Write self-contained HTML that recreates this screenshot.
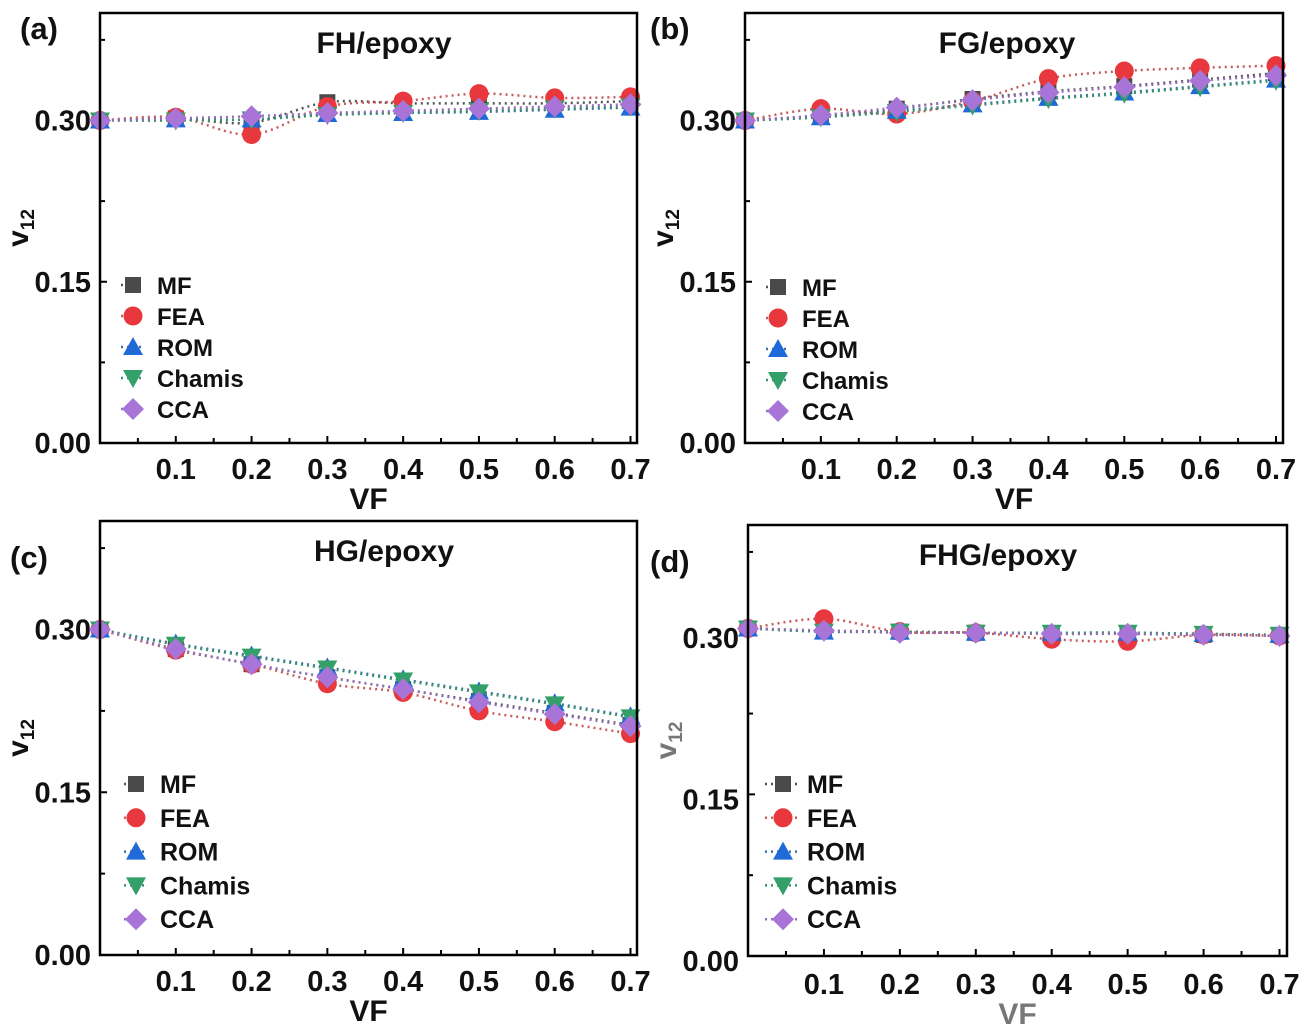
<!DOCTYPE html>
<html><head><meta charset="utf-8"><style>
body{margin:0;background:#fff;}
svg{display:block;font-family:"Liberation Sans",Arial,sans-serif;font-weight:bold;}
</style></head><body>
<svg id="fig" width="1305" height="1034" viewBox="0 0 1305 1034" xmlns="http://www.w3.org/2000/svg"></svg>
<script>
const xValues=[0,0.1,0.2,0.3,0.4,0.5,0.6,0.7];
const seriesNames=["MF","FEA","ROM","Chamis","CCA"];
const xTickLabels=["0.1","0.2","0.3","0.4","0.5","0.6","0.7"];
const yTickLabels=["0.00","0.15","0.30"];
const panelTitles=["FH/epoxy","FG/epoxy","HG/epoxy","FHG/epoxy"];
const panelLetters=["(a)","(b)","(c)","(d)"];
const aMF=[0.300,0.302,0.298,0.317,0.316,0.316,0.316,0.318];
const aFEA=[0.300,0.303,0.287,0.313,0.318,0.325,0.321,0.322];
const aROM=[0.300,0.301,0.301,0.306,0.307,0.308,0.310,0.312];
const aChamis=[0.300,0.300,0.301,0.305,0.307,0.309,0.311,0.313];
const aCCA=[0.300,0.302,0.304,0.307,0.309,0.311,0.313,0.315];
const bMF=[0.300,0.304,0.311,0.320,0.327,0.332,0.338,0.344];
const bFEA=[0.300,0.311,0.306,0.318,0.339,0.346,0.349,0.351];
const bROM=[0.300,0.303,0.309,0.315,0.321,0.326,0.332,0.338];
const bChamis=[0.300,0.303,0.308,0.314,0.320,0.325,0.331,0.337];
const bCCA=[0.300,0.305,0.312,0.319,0.326,0.331,0.337,0.342];
const cMF=[0.300,0.282,0.268,0.256,0.245,0.234,0.223,0.212];
const cFEA=[0.300,0.281,0.268,0.250,0.242,0.225,0.215,0.204];
const cROM=[0.300,0.287,0.276,0.265,0.254,0.243,0.232,0.220];
const cChamis=[0.300,0.286,0.275,0.264,0.253,0.242,0.231,0.219];
const cCCA=[0.300,0.282,0.268,0.256,0.245,0.233,0.222,0.211];
const dMF=[0.304,0.302,0.301,0.300,0.299,0.299,0.298,0.298];
const dFEA=[0.304,0.313,0.301,0.300,0.294,0.292,0.298,0.297];
const dROM=[0.304,0.301,0.301,0.300,0.300,0.300,0.299,0.298];
const dChamis=[0.304,0.301,0.301,0.300,0.300,0.300,0.299,0.298];
const dCCA=[0.304,0.302,0.300,0.300,0.299,0.299,0.298,0.297];
const panelData=[[aMF,aFEA,aROM,aChamis,aCCA],[bMF,bFEA,bROM,bChamis,bCCA],[cMF,cFEA,cROM,cChamis,cCCA],[dMF,dFEA,dROM,dChamis,dCCA]];

const NS="http://www.w3.org/2000/svg";
const svg=document.getElementById('fig');
const colors=["#4a4a4a","#e8383d","#1f6ad6","#33a06a","#a874d8"];
const lineColors=["#555","#c85a5a","#3a6fa8","#3a9070","#9070b8"];
const panels=[
 {L:100,R:637,T:13,B:443,x0:100,x1:630.5,legY:285,legDy:31,mx:133,tx:157,leftLine:false,gray:false,fs:24,yOff:0,xOff:0},
 {L:745,R:1283,T:13,B:443,x0:745,x1:1276,legY:287,legDy:31,mx:778,tx:802,leftLine:false,gray:false,fs:24,yOff:0,xOff:0},
 {L:100,R:637,T:521,B:955,x0:100,x1:630.5,legY:784,legDy:33.8,mx:136,tx:160,leftLine:false,gray:false,fs:25,yOff:0,xOff:0},
 {L:748,R:1287,T:525,B:956,x0:748,x1:1279.5,legY:784,legDy:33.8,mx:783,tx:807,leftLine:true,gray:true,fs:25,yOff:5,xOff:2}
];
function el(tag,attrs,parent){const e=document.createElementNS(NS,tag);for(const k in attrs)e.setAttribute(k,attrs[k]);(parent||svg).appendChild(e);return e;}
function marker(g,i,x,y){
 const c=colors[i];let m;
 if(i===0)m=el('rect',{x:x-8,y:y-8,width:16,height:16,fill:c},g);
 else if(i===1)m=el('circle',{cx:x,cy:y,r:9.5,fill:c},g);
 else if(i===2)m=el('polygon',{points:`${x},${y-10} ${x+10},${y+8} ${x-10},${y+8}`,fill:c},g);
 else if(i===3)m=el('polygon',{points:`${x},${y+10} ${x+10},${y-8} ${x-10},${y-8}`,fill:c},g);
 else m=el('polygon',{points:`${x},${y-11} ${x+11},${y} ${x},${y+11} ${x-11},${y}`,fill:c},g);
 return m;
}
panels.forEach((p,pi)=>{
 const g=el('g',{});
 
 
 const y30=p.B-(p.B-p.T)*0.30/0.40;
 const ys=v=>p.B-(p.B-y30)*v/0.30;
 const xs=v=>p.x0+(p.x1-p.x0)*v/0.7;
 [0.075,0.15,0.225,0.30,0.375].forEach(v=>{const t=el('line',{x1:p.L,x2:p.L+(v===0.15||v===0.30?7:5),y1:ys(v),y2:ys(v),stroke:'#000','stroke-width':2},g);});
 for(let k=1;k<=14;k++){const v=k*0.05;const major=k%2===0;const t=el('line',{x1:xs(v),x2:xs(v),y1:p.B,y2:p.B-(major?7:5),stroke:'#000','stroke-width':2},g);}
 yTickLabels.forEach((s,k)=>{const t=el('text',{x:p.L-9,y:ys(k*0.15)+10+p.yOff,'text-anchor':'end','font-size':29,fill:'#111'},g);t.textContent=s;});
 xTickLabels.forEach((s,k)=>{const t=el('text',{x:xs((k+1)*0.1),y:p.B+36+p.xOff,'text-anchor':'middle','font-size':29,fill:'#111'},g);t.textContent=s;});
 const ax=el('text',{x:(p.L+p.R)/2,y:p.B+66+p.xOff,'text-anchor':'middle','font-size':30,fill:p.gray?'#777':'#111'},g);ax.textContent='VF';
 const yt=el('text',{transform:`translate(${p.L-72},${(p.T+p.B)/2}) rotate(-90)`,'text-anchor':'middle','font-size':30,fill:p.gray?'#777':'#111'},g);
 yt.innerHTML='v<tspan font-size="19" dy="6">12</tspan>';
 const tt=el('text',{x:pi===3?998:(pi===1?1007:384),y:p.T+40,'text-anchor':'middle','font-size':30,fill:'#111'},g);tt.textContent=panelTitles[pi];
 const pl=el('text',{x:pi%2===0?(pi===2?10:20):650,y:p.T+(pi<2?26:47),'font-size':31,fill:'#111'},g);pl.textContent=panelLetters[pi];
 panelData[pi].forEach((arr,si)=>{
  const sg=el('g',{},g);
  
  
  const pts=arr.map((v,k)=>[xs(xValues[k]),ys(v)]);
  let d='M'+pts[0][0]+','+pts[0][1];
  for(let k=0;k<pts.length-1;k++){const p0=pts[Math.max(0,k-1)],p1=pts[k],p2=pts[k+1],p3=pts[Math.min(pts.length-1,k+2)];
   d+=` C${p1[0]+(p2[0]-p0[0])/6},${p1[1]+(p2[1]-p0[1])/6} ${p2[0]-(p3[0]-p1[0])/6},${p2[1]-(p3[1]-p1[1])/6} ${p2[0]},${p2[1]}`;}
  const ln=el('path',{d:d,fill:'none',stroke:lineColors[si],'stroke-width':2.5,'stroke-dasharray':'2 4'},sg);
  
  pts.forEach(pt=>{const m=marker(sg,si,pt[0],pt[1]);});
 });
 const fr=el('rect',{x:p.L,y:p.T,width:p.R-p.L,height:p.B-p.T,fill:'none',stroke:'#000','stroke-width':2.5},g);
 const lg=el('g',{},g);
 seriesNames.forEach((s,si)=>{const y=p.legY+si*p.legDy;
  const e=el('g',{},lg);
  el('line',{x1:p.mx-(p.leftLine?18:12),x2:p.mx+(p.leftLine?18:12),y1:y,y2:y,stroke:lineColors[si],'stroke-width':2.5,'stroke-dasharray':'2 4'},e);
  marker(e,si,p.mx,y);
  const t=el('text',{x:p.tx,y:y+9,'font-size':p.fs,fill:'#111'},e);t.textContent=s;
 });
});
</script>
</body></html>
